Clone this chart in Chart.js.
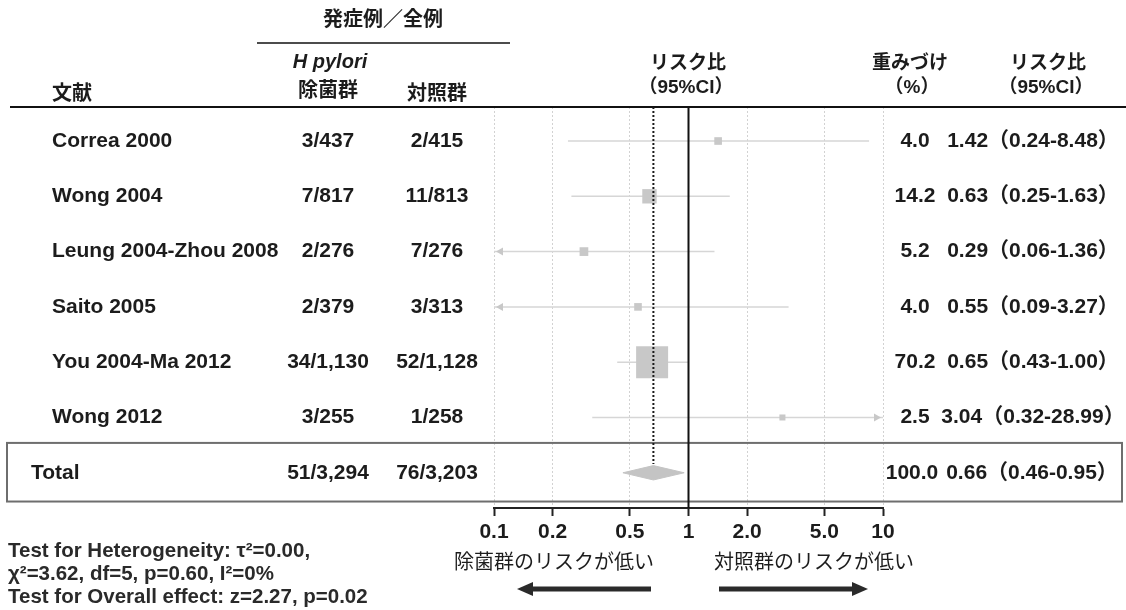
<!DOCTYPE html>
<html lang="ja">
<head>
<meta charset="utf-8">
<script src="https://cdn.jsdelivr.net/npm/chart.js@4.4.1/dist/chart.umd.min.js"></script>
<style>
html, body { margin: 0; padding: 0; background: #fff; }
canvas { display: block; }
</style>
</head>
<body>
<canvas id="forest" width="1126" height="610"></canvas>
<script>
// 各研究のデータ
const studies = ['Correa 2000', 'Wong 2004', 'Leung 2004-Zhou 2008', 'Saito 2005', 'You 2004-Ma 2012', 'Wong 2012'];
const eradEvents = ['3/437', '7/817', '2/276', '2/379', '34/1,130', '3/255'];
const ctrlEvents = ['2/415', '11/813', '7/276', '3/313', '52/1,128', '1/258'];
const weights = [4.0, 14.2, 5.2, 4.0, 70.2, 2.5];
const riskRatio = [1.42, 0.63, 0.29, 0.55, 0.65, 3.04];
const ciLow = [0.24, 0.25, 0.06, 0.09, 0.43, 0.32];
const ciHigh = [8.48, 1.63, 1.36, 3.27, 1.00, 28.99];

// 統合結果
const totalErad = '51/3,294';
const totalCtrl = '76/3,203';
const totalWeight = 100.0;
const totalRR = 0.66;
const totalLow = 0.46;
const totalHigh = 0.95;

// 目盛り
const tickValues = [0.1, 0.2, 0.5, 1, 2, 5, 10];
const tickLabels = ['0.1', '0.2', '0.5', '1', '2.0', '5.0', '10'];

const FONT = "'Liberation Sans', Arial, 'Noto Sans CJK JP', sans-serif";
const FONT_JP = "'Noto Sans CJK JP', sans-serif";
const TEXT = '#1c1c1c';
const totalRow = studies.length;
const yMin = -0.615, yMax = 6.637;

function fmtCI(v, lo, hi) {
    return v.toFixed(2) + '（' + lo.toFixed(2) + '-' + hi.toFixed(2) + '）';
}

// 信頼区間の線
const ciSets = studies.map((s, i) => ({
    type: 'line',
    data: [{ x: ciLow[i], y: i }, { x: ciHigh[i], y: i }],
    borderColor: '#d6d6d6',
    borderWidth: 1.5,
    pointRadius: 0,
    order: 5
}));

// 点推定（重みで大きさ）
const pointSet = {
    type: 'scatter',
    data: riskRatio.map((v, i) => ({ x: v, y: i })),
    pointStyle: 'rect',
    pointRadius: weights.map(w => 2.7 * Math.sqrt(w)),
    pointHoverRadius: weights.map(w => 2.7 * Math.sqrt(w)),
    backgroundColor: '#c8c8c8',
    borderColor: '#c8c8c8',
    borderWidth: 0,
    order: 4
};

// ダイヤモンド
const diamondSet = {
    type: 'line',
    data: [
        { x: totalLow, y: totalRow },
        { x: totalRR, y: totalRow - 0.13 },
        { x: totalHigh, y: totalRow },
        { x: totalRR, y: totalRow + 0.13 },
        { x: totalLow, y: totalRow }
    ],
    fill: 'shape',
    backgroundColor: '#c4c4c4',
    borderColor: '#c4c4c4',
    borderWidth: 1,
    pointRadius: 0,
    tension: 0,
    order: 3
};

// 統合推定の点線
const pooledLine = {
    type: 'line',
    data: [{ x: totalRR, y: yMin }, { x: totalRR, y: totalRow - 0.16 }],
    borderColor: '#1a1a1a',
    borderWidth: 2,
    borderDash: [2, 2],
    pointRadius: 0,
    order: 2
};

// 1の線
const nullLine = {
    type: 'line',
    data: [{ x: 1, y: yMin }, { x: 1, y: yMax }],
    borderColor: '#111',
    borderWidth: 2,
    pointRadius: 0,
    order: 1
};

function txt(ctx, s, x, y, font, align) {
    ctx.font = font;
    ctx.textAlign = align || 'left';
    ctx.textBaseline = 'middle';
    ctx.fillText(s, x, y);
}

function arrow(ctx, x0, x1, y) {
    const dir = x1 > x0 ? 1 : -1;
    const head = 16;
    ctx.fillStyle = '#2a2a2a';
    ctx.fillRect(Math.min(x0, x1 - dir * head), y - 2.5, Math.abs(x1 - dir * head - x0), 5);
    ctx.beginPath();
    ctx.moveTo(x1, y);
    ctx.lineTo(x1 - dir * head, y - 7);
    ctx.lineTo(x1 - dir * head, y + 7);
    ctx.closePath();
    ctx.fill();
}

const forestText = {
    id: 'forestText',
    beforeDatasetsDraw(chart) {
        const ctx = chart.ctx;
        const y = chart.scales.y;
        const top = chart.chartArea.top;
        ctx.save();
        // ヘッダー線
        ctx.strokeStyle = '#111';
        ctx.lineWidth = 2;
        ctx.beginPath();
        ctx.moveTo(10, top);
        ctx.lineTo(1126, top);
        ctx.stroke();
        ctx.lineWidth = 1.5;
        ctx.beginPath();
        ctx.moveTo(257, 43);
        ctx.lineTo(510, 43);
        ctx.stroke();
        // Total の枠
        const bTop = y.getPixelForValue(totalRow - 0.54);
        const bBot = y.getPixelForValue(totalRow + 0.52);
        ctx.strokeStyle = '#6e6e6e';
        ctx.lineWidth = 2;
        ctx.strokeRect(7, bTop, 1115, bBot - bTop);
        ctx.restore();
    },
    afterDatasetsDraw(chart) {
        const ctx = chart.ctx;
        const x = chart.scales.x;
        const y = chart.scales.y;
        const area = chart.chartArea;
        ctx.save();
        // はみ出した信頼区間の矢印
        ctx.fillStyle = '#c8c8c8';
        studies.forEach((s, i) => {
            const py = y.getPixelForValue(i);
            if (ciLow[i] < x.min) {
                ctx.beginPath();
                ctx.moveTo(area.left + 2, py);
                ctx.lineTo(area.left + 9, py - 4);
                ctx.lineTo(area.left + 9, py + 4);
                ctx.closePath();
                ctx.fill();
            }
            if (ciHigh[i] > x.max) {
                ctx.beginPath();
                ctx.moveTo(area.right - 2, py);
                ctx.lineTo(area.right - 9, py - 4);
                ctx.lineTo(area.right - 9, py + 4);
                ctx.closePath();
                ctx.fill();
            }
        });
        ctx.restore();
    },
    afterDraw(chart) {
        const ctx = chart.ctx;
        const y = chart.scales.y;
        ctx.save();
        ctx.fillStyle = TEXT;

        // ヘッダー
        txt(ctx, '発症例／全例', 383, 18, 'bold 20px ' + FONT_JP, 'center');
        txt(ctx, 'H pylori', 330, 62, 'italic bold 20px ' + FONT, 'center');
        txt(ctx, '除菌群', 328, 89, 'bold 20px ' + FONT_JP, 'center');
        txt(ctx, '対照群', 437, 92, 'bold 20px ' + FONT_JP, 'center');
        txt(ctx, '文献', 52, 92, 'bold 20px ' + FONT_JP, 'left');
        txt(ctx, 'リスク比', 688, 62, 'bold 19px ' + FONT_JP, 'center');
        txt(ctx, '（95%CI）', 686, 88, 'bold 19px ' + FONT, 'center');
        txt(ctx, '重みづけ', 910, 62, 'bold 19px ' + FONT_JP, 'center');
        txt(ctx, '（%）', 912, 88, 'bold 19px ' + FONT, 'center');
        txt(ctx, 'リスク比', 1048, 62, 'bold 19px ' + FONT_JP, 'center');
        txt(ctx, '（95%CI）', 1046, 88, 'bold 19px ' + FONT, 'center');

        // 各行
        const rowFont = 'bold 21px ' + FONT;
        studies.forEach((s, i) => {
            const py = y.getPixelForValue(i);
            txt(ctx, s, 52, py, rowFont, 'left');
            txt(ctx, eradEvents[i], 328, py, rowFont, 'center');
            txt(ctx, ctrlEvents[i], 437, py, rowFont, 'center');
            txt(ctx, weights[i].toFixed(1), 915, py, rowFont, 'center');
            txt(ctx, fmtCI(riskRatio[i], ciLow[i], ciHigh[i]), 1033, py, rowFont, 'center');
        });
        const ty = y.getPixelForValue(totalRow);
        txt(ctx, 'Total', 31, ty, rowFont, 'left');
        txt(ctx, totalErad, 328, ty, rowFont, 'center');
        txt(ctx, totalCtrl, 437, ty, rowFont, 'center');
        txt(ctx, totalWeight.toFixed(1), 912, ty, rowFont, 'center');
        txt(ctx, fmtCI(totalRR, totalLow, totalHigh), 1032, ty, rowFont, 'center');

        // 軸の説明と矢印
        txt(ctx, '除菌群のリスクが低い', 554, 561, '20px ' + FONT_JP, 'center');
        txt(ctx, '対照群のリスクが低い', 814, 561, '20px ' + FONT_JP, 'center');
        arrow(ctx, 651, 517, 589);
        arrow(ctx, 719, 868, 589);

        // 検定
        const sFont = 'bold 20.5px ' + FONT;
        txt(ctx, 'Test for Heterogeneity: τ²=0.00,', 8, 551, sFont, 'left');
        txt(ctx, 'χ²=3.62, df=5, p=0.60, I²=0%', 8, 574, sFont, 'left');
        txt(ctx, 'Test for Overall effect: z=2.27, p=0.02', 8, 597, sFont, 'left');
        ctx.restore();
    }
};

new Chart(document.getElementById('forest'), {
    type: 'scatter',
    data: { datasets: [nullLine, pooledLine, diamondSet, pointSet, ...ciSets] },
    options: {
        responsive: false,
        animation: false,
        events: [],
        layout: { padding: { left: 494, right: 243, top: 107, bottom: 0 } },
        plugins: { legend: { display: false }, tooltip: { enabled: false } },
        scales: {
            x: {
                type: 'logarithmic',
                min: 0.1,
                max: 10,
                afterBuildTicks: scale => {
                    scale.ticks = tickValues.map(v => ({ value: v }));
                },
                afterFit: scale => { scale.height = 102; },
                ticks: {
                    autoSkip: false,
                    maxRotation: 0,
                    padding: 4,
                    color: TEXT,
                    font: { family: FONT, size: 21, weight: 'bold' },
                    callback: v => tickLabels[tickValues.indexOf(v)]
                },
                grid: {
                    color: '#d2d2d2',
                    lineWidth: 1,
                    tickLength: 8,
                    tickColor: '#222',
                    tickWidth: 2,
                    tickBorderDash: []
                },
                border: { color: '#222', width: 2, dash: [2, 2] }
            },
            y: {
                type: 'linear',
                display: false,
                reverse: true,
                min: yMin,
                max: yMax
            }
        }
    },
    plugins: [forestText]
});
</script>
</body>
</html>
